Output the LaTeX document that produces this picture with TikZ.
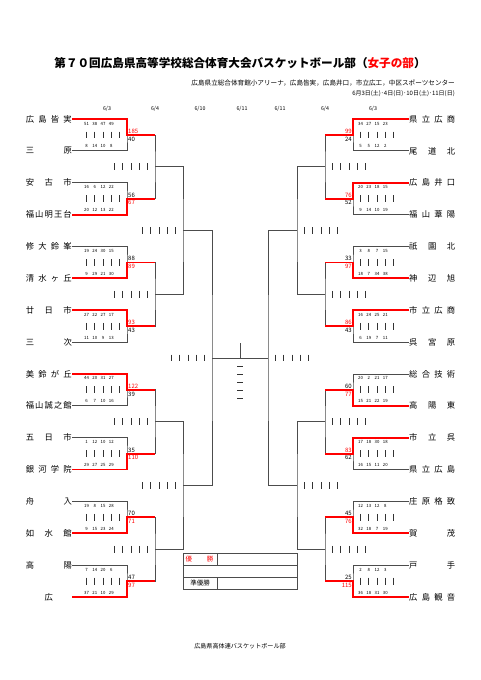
\documentclass[tikz,border=0pt]{standalone}
\usepackage{fontspec}
\setmainfont{Noto Sans CJK JP}
\usetikzlibrary{calc}

\def\ys{31.87}
% spread the letters of a school name over the name column
\def\dospread#1{\ifx#1\relax\else#1\expandafter\dospreadnext\fi}
\def\dospreadnext#1{\ifx#1\relax\else\hfill#1\expandafter\dospreadnext\fi}
\newcommand\spreadname[1]{\makebox[46pt][s]{\expandafter\dospread#1\relax}}
% four quarter scores
\def\qsc#1 #2 #3 #4\relax{\makebox[8.25pt]{#1}\makebox[8.25pt]{#2}\makebox[8.25pt]{#3}\makebox[8.25pt]{#4}}
% five empty score bars beside a match
\newcommand\scorebars[2]{\foreach \k in {-2,...,2} \draw[scorebar] ($(#1)+({#2+8.25*\k},-3.4)$) -- ++(0,6.8);}

\begin{document}
\begin{tikzpicture}[x=1pt,y=-1pt,
		bline/.style={draw=black!70,line width=0.8pt},
		win/.style={draw=red,line width=1.8pt},
		scorebar/.style={draw=black!80,line width=0.7pt},
		team/.style={font=\fontsize{8.3}{8.3}\selectfont},
		qs/.style={font=\fontsize{4.3}{4.3}\selectfont},
		tot/.style={font=\fontsize{6}{6}\selectfont},
		day/.style={font=\fontsize{5.3}{5.3}\selectfont}]
				\tikzstyle{every node}+=[inner sep=0pt]
				\fill[white] (0,0) rectangle (481,680);
				\useasboundingbox (0,0) rectangle (481,680);
				% heading
				\node (title) at (240,63) {\fontsize{11.6}{12}\selectfont\bfseries 第７０回広島県高等学校総合体育大会バスケットボール部（\textcolor{red}{女子の部}）};
				\node[anchor=east] (venue) at (455,83) {\fontsize{6.6}{7}\selectfont 広島県立総合体育館小アリーナ，広島皆実，広島井口，市立広工，中区スポーツセンター};
				\node[anchor=east] (dates) at (455,94) {\fontsize{6}{7}\selectfont 6月3日(土)･4日(日)･10日(土)･11日(日)};
				\foreach \x/\d [count=\n] in {107/{6/3},155/{6/4},200/{6/10},242/{6/11},280/{6/11},325/{6/4},373/{6/3}}
					\node[day] (d\n) at (\x,109) {\d};
				% match points
				\foreach \p in {1,...,8} {
					\coordinate (La\p) at (127,{119+(2*\p-1.5)*\ys});
					\coordinate (Ra\p) at (353,{119+(2*\p-1.5)*\ys});
				}
				\foreach \p in {1,...,4} {
					\coordinate (Lb\p) at (155,{119+(4*\p-2.5)*\ys});
					\coordinate (Rb\p) at (325,{119+(4*\p-2.5)*\ys});
				}
				\foreach \p in {1,2} {
					\coordinate (Lc\p) at (183,{119+(8*\p-4.5)*\ys});
					\coordinate (Rc\p) at (297,{119+(8*\p-4.5)*\ys});
				}
				\coordinate (Ld) at (212,{119+7.5*\ys});
				\coordinate (Rd) at (268,{119+7.5*\ys});
				\coordinate (F) at (240,{119+7.5*\ys});
				\coordinate (Ftop) at (240,343);
				% left block
				\foreach \i/\nm/\qq/\tot/\wn in {1/広島皆実/51 38 47 49/185/1, 2/三原/8 14 10 8/40/0,
					3/安古市/16 6 12 22/56/0, 4/福山明王台/20 12 13 22/67/1,
					5/修大鈴峯/19 24 30 15/88/0, 6/清水ヶ丘/9 29 21 30/89/1,
					7/廿日市/27 22 27 17/93/1, 8/三次/11 10 9 13/43/0,
					9/美鈴が丘/44 20 31 27/122/1, 10/福山誠之館/6 7 10 16/39/0,
					11/五日市/1 12 10 12/35/0, 12/銀河学院/29 27 25 29/110/1,
					13/舟入/19 8 15 28/70/0, 14/如水館/9 15 23 24/71/1,
					15/高陽/7 14 20 6/47/0, 16/\hfill 広\hfill/37 21 10 29/97/1} {
					\pgfmathsetmacro\y{119+(\i-1)*\ys}
					\ifnum\wn=1 \def\tcol{red}\else\def\tcol{black}\fi
					\ifodd\i \def\dq{4.5}\def\dt{\ys/2-3.6}\else\def\dq{-4.5}\def\dt{-\ys/2+4}\fi
					\node[team,anchor=east] (L\i) at (72,\y) {\spreadname\nm};
					\node[qs] (Lq\i) at (98.9,{\y+(\dq)}) {\expandafter\qsc\qq\relax};
					\node[tot,anchor=west,text=\tcol] (Lt\i) at (128,{\y+(\dt)}) {\tot};
				}
				% right block
				\foreach \i/\nm/\qq/\tot/\wn in {1/県立広商/34 27 15 23/99/1, 2/尾道北/5 5 12 2/24/0,
					3/広島井口/20 23 18 15/76/1, 4/福山葦陽/9 14 10 19/52/0,
					5/祇園北/3 8 7 15/33/0, 6/神辺旭/18 7 34 38/97/1,
					7/市立広商/16 24 25 21/86/1, 8/呉宮原/6 19 7 11/43/0,
					9/総合技術/20 2 21 17/60/0, 10/高陽東/15 21 22 19/77/1,
					11/市立呉/17 18 30 18/83/1, 12/県立広島/16 15 11 20/62/0,
					13/庄原格致/12 13 12 8/45/0, 14/賀茂/32 18 7 19/76/1,
					15/戸手/2 8 12 3/25/0, 16/広島観音/36 18 31 30/115/1} {
					\pgfmathsetmacro\y{119+(\i-1)*\ys}
					\ifnum\wn=1 \def\tcol{red}\else\def\tcol{black}\fi
					\ifodd\i \def\dq{4.5}\def\dt{\ys/2-3.6}\else\def\dq{-4.5}\def\dt{-\ys/2+4}\fi
					\node[team,anchor=west] (R\i) at (409,\y) {\spreadname\nm};
					\node[qs] (Rq\i) at (372.9,{\y+(\dq)}) {\expandafter\qsc\qq\relax};
					\node[tot,anchor=east,text=\tcol] (Rt\i) at (352,{\y+(\dt)}) {\tot};
				}
				% brackets
				\foreach \p [evaluate=\p as \a using int(2*\p-1), evaluate=\p as \b using int(2*\p)] in {1,...,8} {
					\draw[bline] (L\a.east) -| (La\p) |- (L\b.east);
					\draw[bline] (R\a.west) -| (Ra\p) |- (R\b.west);
					\scorebars{La\p}{-24} \scorebars{Ra\p}{24}
				}
				\foreach \p [evaluate=\p as \a using int(2*\p-1), evaluate=\p as \b using int(2*\p)] in {1,...,4} {
					\draw[bline] (La\a) -| (Lb\p) |- (La\b);
					\draw[bline] (Ra\a) -| (Rb\p) |- (Ra\b);
					\scorebars{Lb\p}{-24} \scorebars{Rb\p}{24}
				}
				\foreach \p [evaluate=\p as \a using int(2*\p-1), evaluate=\p as \b using int(2*\p)] in {1,2} {
					\draw[bline] (Lb\a) -| (Lc\p) |- (Lb\b);
					\draw[bline] (Rb\a) -| (Rc\p) |- (Rb\b);
					\scorebars{Lc\p}{-24} \scorebars{Rc\p}{24}
				}
				\draw[bline] (Lc1) -| (Ld) |- (Lc2);
				\draw[bline] (Rc1) -| (Rd) |- (Rc2);
				\scorebars{Ld}{-24} \scorebars{Rd}{24}
				\draw[bline] (Ld) -- (Rd);
				\draw[bline] (F) -- (Ftop);
				\foreach \k in {0,...,4}
					\draw[scorebar] ($(F)+(-3,8+8*\k)$) -- ++(6,0);
				% first round winners
				\foreach \w/\p [evaluate=\p as \q using int((\p+1)/2)] in {1/1,4/2,6/3,7/4,9/5,12/6,14/7,16/8}
					\draw[win] (L\w.east) -| (La\p) -- (Lb\q |- La\p);
				\foreach \w/\p [evaluate=\p as \q using int((\p+1)/2)] in {1/1,3/2,6/3,7/4,10/5,11/6,14/7,16/8}
					\draw[win] (R\w.west) -| (Ra\p) -- (Rb\q |- Ra\p);
				% result box
				\draw[bline] (183,553) rectangle (297,589);
				\draw[bline] (183,565) -- (297,565);
				\draw[bline] (183,577) -- (297,577);
				\draw[bline] (217,553) -- (217,565);
				\draw[bline] (217,577) -- (217,589);
				\node[text=red] (champ) at (199.5,559) {\fontsize{6.5}{7}\selectfont\makebox[28pt][s]{優\hfill 勝}};
				\node (runner) at (200,583) {\fontsize{6.5}{7}\selectfont 準優勝};
				\node (foot) at (240,646) {\fontsize{6.1}{7}\selectfont 広島県高体連バスケットボール部};
			\end{tikzpicture}
\end{document}
